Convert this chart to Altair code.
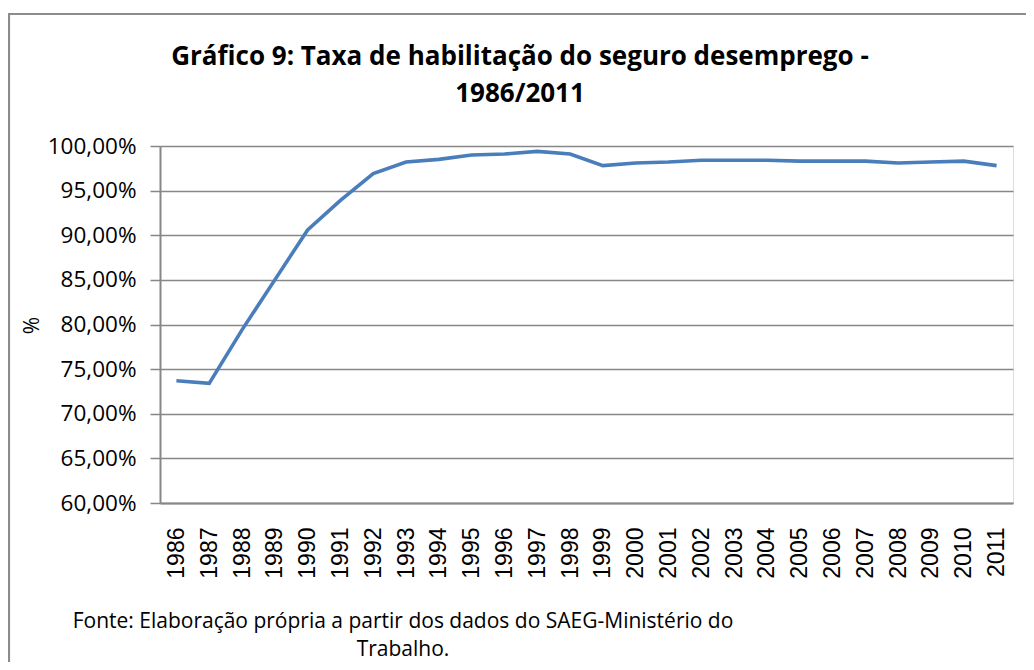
import altair as alt
import pandas as pd

years = [str(y) for y in range(1986, 2012)]
rates = [73.7, 73.4, 79.4, 85.0, 90.6, 93.9, 96.9, 98.2, 98.5, 99.0, 99.1, 99.4, 99.1,
         97.8, 98.1, 98.2, 98.4, 98.4, 98.4, 98.3, 98.3, 98.3, 98.1, 98.2, 98.3, 97.8]
y_ticks = [60, 65, 70, 75, 80, 85, 90, 95, 100]

title_text = "Gráfico 9: Taxa de habilitação do seguro desemprego -\n1986/2011"
footer = "Fonte: Elaboração própria a partir dos dados do SAEG-Ministério do\nTrabalho."

df = pd.DataFrame({"ano": years, "taxa": rates})

W, H = 853, 357
GRID = "#878787"

line = alt.Chart(df).mark_line(color="#4a7ebb", strokeWidth=3.6).encode(
    x=alt.X("ano:O", sort=years,
            scale=alt.Scale(type="point", padding=0.5),
            axis=alt.Axis(title=None, labelAngle=-90, labelAlign="right", labelBaseline="middle",
                          labelFont="Liberation Sans", labelFontSize=23, labelColor="#000000",
                          labelPadding=24, ticks=False, domainColor=GRID, domainWidth=2,
                          grid=False, labelOverlap=False)),
    y=alt.Y("taxa:Q",
            scale=alt.Scale(domain=[60, 100], nice=False, zero=False),
            axis=alt.Axis(values=y_ticks, title="%", titleAngle=270,
                          titleX=-128, titleY=179, titleAlign="center", titleBaseline="middle",
                          titleFont="Open Sans", titleFontSize=21, titleFontWeight="normal",
                          titleColor="#000000",
                          labelExpr="replace(format(datum.value, '.2f'), '.', ',') + '%'",
                          labelFont="Open Sans", labelFontSize=22.5, labelColor="#000000",
                          labelPadding=14, tickSize=10, tickColor=GRID, tickWidth=1.5,
                          domainColor=GRID, domainWidth=2,
                          grid=True, gridColor=GRID, gridWidth=1.5)),
)

frame = alt.Chart(pd.DataFrame({"k": [0]})).mark_rect(
    fill=None, stroke="#8c8c8c", strokeWidth=2.2
).encode(x=alt.value(-151), x2=alt.value(900), y=alt.value(-132), y2=alt.value(560))

title = alt.Chart(pd.DataFrame({"t": [title_text]})).mark_text(
    font="Open Sans", fontSize=26, fontWeight="bold", color="#000000", align="center",
    baseline="alphabetic", lineBreak="\n", lineHeight=37
).encode(x=alt.value(360), y=alt.value(-81), text="t:N")

foot = alt.Chart(pd.DataFrame({"t": [footer]})).mark_text(
    font="Open Sans", fontSize=21, color="#000000", align="center", baseline="alphabetic",
    lineBreak="\n", lineHeight=28
).encode(x=alt.value(243), y=alt.value(482), text="t:N")

chart = alt.layer(frame, line, title, foot).properties(
    width=W, height=H,
    autosize=alt.AutoSizeParams(type="none"),
    padding={"left": 152, "top": 138, "right": 13, "bottom": 159},
).configure_view(stroke=None).configure(background="white")

chart.save("out.html", embed_options={"renderer": "svg", "actions": False})
